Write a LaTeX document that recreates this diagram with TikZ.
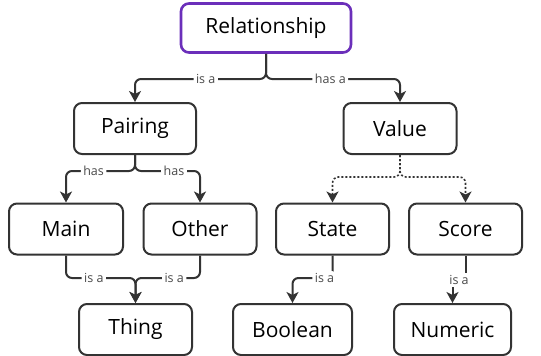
\documentclass[tikz,border=0pt]{standalone}
\usepackage{fontspec}
\setmainfont{Open Sans}
\usepackage{tikz}
\usetikzlibrary{arrows.meta,positioning,calc}
\usepackage{xcolor}
\definecolor{rootpurple}{HTML}{6B2FBA}
\definecolor{boxline}{HTML}{333333}
\definecolor{labelgray}{HTML}{4A4A4A}

\begin{document}
\begin{tikzpicture}[
  x=1pt, y=1pt,
  >={Stealth[length=11pt,width=12pt,inset=3pt]},
  conceptbox/.style={
    draw=boxline,
    fill=white,
    rounded corners=8pt,
    line width=2pt,
    minimum width=113pt,
    minimum height=51pt,
    inner sep=0pt,
    align=center,
    font=\fontsize{21}{24}\selectfont
  },
  link/.style={
    ->,
    line width=2pt,
    draw=boxline,
    rounded corners=6pt
  },
  dottedlink/.style={
    link,
    dotted,
    line width=1.6pt
  },
  lbl/.style={
    fill=white,
    inner sep=2.5pt,
    text=labelgray,
    font=\fontsize{12.5}{14}\selectfont
  }
]
  \useasboundingbox (0,0) rectangle (541,-356);

  % -------------------------------------------------------------
  % ROOT
  % -------------------------------------------------------------
  \node[conceptbox, draw=rootpurple, line width=2.6pt, minimum width=170pt, minimum height=49pt] (rel) at (266,-28) {Relationship};

  % -------------------------------------------------------------
  % SECOND ROW
  % -------------------------------------------------------------
  \node[conceptbox, minimum width=122pt] (pair) at (135,-128.5) {Pairing};
  \node[conceptbox] (val) at (400,-128.5) {Value};

  % -------------------------------------------------------------
  % THIRD ROW
  % -------------------------------------------------------------
  \node[conceptbox, minimum width=114pt] (main) at (66,-229) {Main};
  \node[conceptbox] (other) at (200,-229) {Other};
  \node[conceptbox] (state) at (332.5,-229) {State};
  \node[conceptbox] (score) at (465.5,-229) {Score};

  % -------------------------------------------------------------
  % BOTTOM ROW
  % -------------------------------------------------------------
  \node[conceptbox] (thing) at (135.5,-329.5) {Thing};
  \node[conceptbox, minimum width=119pt] (bool) at (292.5,-329.5) {Boolean};
  \node[conceptbox, minimum width=117pt] (num) at (452.5,-329.5) {Numeric};

  % split and join points
  \coordinate (relsplit) at (266,-79);
  \coordinate (pairsplit) at (135,-171);
  \coordinate (valsplit) at (400,-177);
  \coordinate (thingjoin) at (135.5,-278);

  % Relationship branches
  \draw[link] (rel.south) -- (relsplit) -| node[pos=0.23, lbl] {is a} (pair.north);
  \draw[link] (rel.south) -- (relsplit) -| node[pos=0.24, lbl] {has a} (val.north);

  % Pairing branches
  \draw[link] (pair.south) -- (pairsplit) -| node[pos=0.3, lbl] {has} (main.north);
  \draw[link] (pair.south) -- (pairsplit) -| node[pos=0.3, lbl] {has} (other.north);

  % Value branches
  \draw[dottedlink] (val.south) -- (valsplit) -| (state.north);
  \draw[dottedlink] (val.south) -- (valsplit) -| (score.north);

  % Main and Other join into Thing
  \draw[link] (main.south) |- node[pos=0.7, lbl] {is a} (thingjoin) -- (thing.north);
  \draw[link] (other.south) |- node[pos=0.7, lbl] {is a} (thingjoin) -- (thing.north);

  % State to Boolean, Score to Numeric
  \draw[link] (state.south) |- node[pos=0.6, lbl] {is a} (bool.north |- thingjoin) -- (bool.north);
  \draw[link, rounded corners=0pt] (score.south) |- node[pos=0.75, lbl] {is a} (num.north |- 0,-280) -- (num.north);

\end{tikzpicture}
\end{document}
